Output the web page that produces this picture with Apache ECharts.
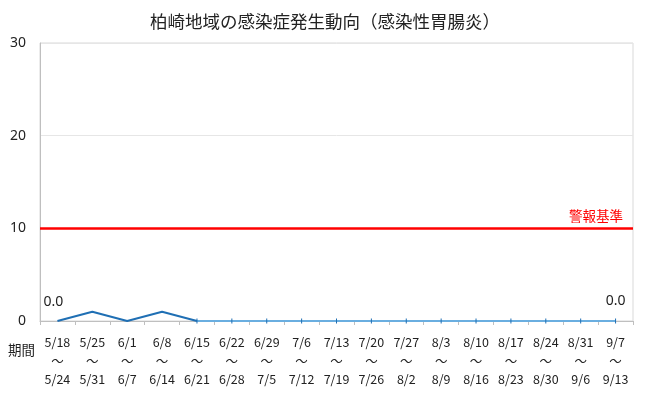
<!DOCTYPE html>
<html><head><meta charset="utf-8">
<script src="https://cdn.jsdelivr.net/npm/echarts@6/dist/echarts.min.js"></script>
<style>html,body{margin:0;padding:0;background:#fff}#c{width:650px;height:401px}</style>
</head><body><div id="c"></div>
<script>
var startDates = ['5/18','5/25','6/1','6/8','6/15','6/22','6/29','7/6','7/13','7/20','7/27','8/3','8/10','8/17','8/24','8/31','9/7'];
var endDates = ['5/24','5/31','6/7','6/14','6/21','6/28','7/5','7/12','7/19','7/26','8/2','8/9','8/16','8/23','8/30','9/6','9/13'];
var earlyValues = [0,1,0,1,0,null,null,null,null,null,null,null,null,null,null,null,null];
var laterValues = [null,null,null,null,0,0,0,0,0,0,0,0,0,0,0,0,0];
var alertLevel = 10;
var yTicks = [0,10,20,30];

var categories = startDates.map(function(s,i){return s+'\n～\n'+endDates[i];});
var FONT = '"Noto Sans CJK JP","Noto Sans",sans-serif';
var LATIN = '"Noto Sans",sans-serif';
var chart = echarts.init(document.getElementById('c'));
var labelIdx = [0, startDates.length-1];
chart.setOption({
  animation:false,
  textStyle:{fontFamily:FONT},
  title:{text:'柏崎地域の感染症発生動向（感染性胃腸炎）',left:'center',top:8,
    textStyle:{fontSize:17.5,fontWeight:'normal',color:'#222',fontFamily:FONT}},
  grid:{left:40,right:17,top:43,bottom:80,show:true,borderColor:'#d9d9d9',borderWidth:1},
  graphic:[{type:'text',left:8,top:343,style:{text:'期間',font:'13.5px '+FONT,fill:'#222'}}],
  xAxis:{type:'category',data:categories,boundaryGap:true,
    axisLine:{lineStyle:{color:'#bfbfbf'}},
    axisTick:{show:true,length:4,lineStyle:{color:'#bfbfbf'}},
    axisLabel:{color:'#222',fontSize:12.5,lineHeight:18.5,margin:12,interval:0,fontFamily:FONT}},
  yAxis:{type:'value',min:yTicks[0],max:yTicks[yTicks.length-1],interval:10,
    axisLine:{show:true,lineStyle:{color:'#bfbfbf'}},
    axisTick:{show:false},
    splitLine:{lineStyle:{color:'#e6e6e6'}},
    axisLabel:{color:'#222',fontSize:14,margin:14,fontFamily:LATIN}},
  series:[
    {type:'line',data:laterValues,symbol:'rect',symbolSize:[1,5],showSymbol:true,
     itemStyle:{color:'#1f6fb4'},lineStyle:{color:'#6aaee0',width:2},z:3,
     label:{show:true,position:'top',distance:10,fontSize:14,color:'#222',fontFamily:LATIN,
       formatter:function(p){return p.dataIndex===labelIdx[1]?Number(p.value).toFixed(1):'';}}},
    {type:'line',data:earlyValues,symbol:'circle',symbolSize:0.1,showSymbol:true,
     itemStyle:{color:'#1f6fb4'},
     lineStyle:{color:'#1f6fb4',width:2},z:4,
     label:{show:true,position:'top',distance:12,offset:[-4,0],fontSize:14,color:'#222',fontFamily:LATIN,
       formatter:function(p){return p.dataIndex===labelIdx[0]?Number(p.value).toFixed(1):'';}},
     markLine:{silent:true,symbol:'none',data:[{yAxis:alertLevel}],
       lineStyle:{color:'#ff0000',width:2.5,type:'solid'},
       label:{show:true,position:'insideEndTop',formatter:'警報基準',color:'#ff0000',fontSize:13.5,distance:[10,6],fontFamily:FONT}}}
  ]
});
</script></body></html>
